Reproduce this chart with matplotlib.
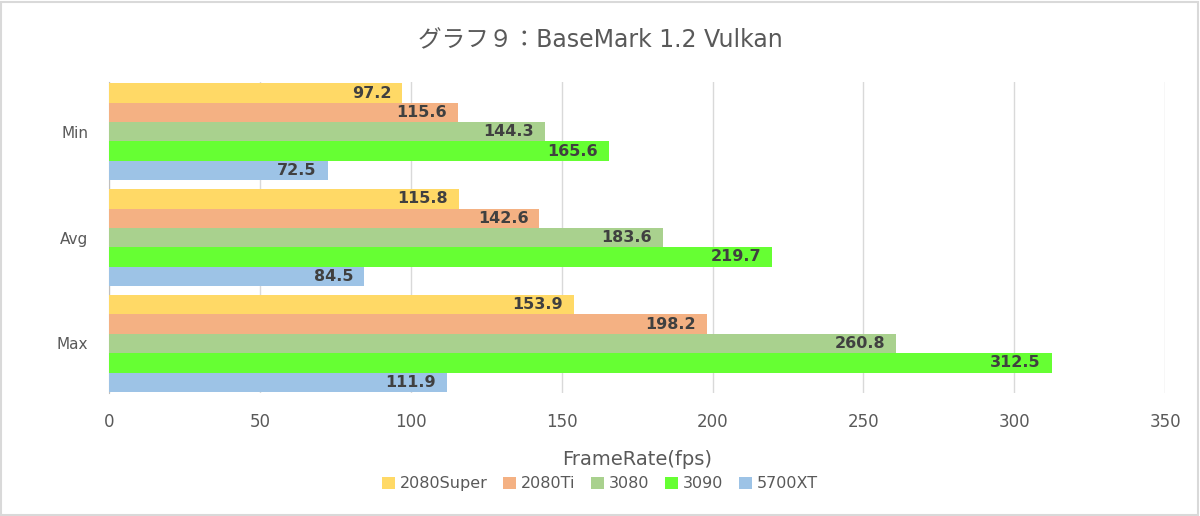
import numpy as np
import matplotlib.pyplot as plt
from matplotlib.patches import Rectangle

plt.rcParams['font.family'] = 'DejaVu Sans'

categories = ['Min', 'Avg', 'Max']
series = ['2080Super', '2080Ti', '3080', '3090', '5700XT']
values = {
    '2080Super': [97.2, 115.8, 153.9],
    '2080Ti': [115.6, 142.6, 198.2],
    '3080': [144.3, 183.6, 260.8],
    '3090': [165.6, 219.7, 312.5],
    '5700XT': [72.5, 84.5, 111.9],
}
colors = ['#FFD966', '#F4B183', '#A9D18E', '#66FF33', '#9DC3E6']

fig = plt.figure(figsize=(12, 5.16), dpi=100)
ax = fig.add_axes([0.091, 0.238, 0.880, 0.603])

y = np.arange(len(categories))
h = 0.183
for i, (name, col) in enumerate(zip(series, colors)):
    pos = y - 2 * h + i * h
    bars = ax.barh(pos, values[name], height=h, color=col, label=name, zorder=3)
    ax.bar_label(bars, labels=[f'{v:.1f}' for v in values[name]], padding=-8,
                 label_type='edge', fontsize=11.5, fontweight='bold', color='#404040')
    for t in ax.texts[-3:]:
        t.set_ha('right')

ax.set_xlim(0, 350)
ax.set_ylim(2.47, -0.47)
ax.set_yticks(y, categories)
ax.set_xticks(np.arange(0, 351, 50))
ax.grid(axis='x', color='#d9d9d9', linewidth=1, zorder=0)
for s in ['top', 'right', 'bottom']:
    ax.spines[s].set_visible(False)
ax.spines['left'].set_color('#bfbfbf')
ax.tick_params(axis='y', length=0, pad=15, labelsize=11, labelcolor='#595959')
ax.tick_params(axis='x', length=0, pad=14, labelsize=12, labelcolor='#595959')

ax.set_xlabel('FrameRate(fps)', fontsize=14, color='#595959', labelpad=14)
fig.suptitle('グラフ９：BaseMark 1.2 Vulkan', fontsize=17, color='#595959', y=0.945,
             family=['DejaVu Sans', 'Noto Sans CJK JP'])

fig.legend(loc='lower center', bbox_to_anchor=(0.5, 0.02), ncol=5, frameon=False,
           fontsize=11.5, labelcolor='#595959', handlelength=0.8, handleheight=0.8,
           handletextpad=0.3, columnspacing=1.0)

fig.patches.append(Rectangle((0.001, 0.002), 0.997, 0.995, transform=fig.transFigure,
                             fill=False, edgecolor='#d9d9d9', linewidth=1.5))

fig.savefig('out.png', dpi=100)
